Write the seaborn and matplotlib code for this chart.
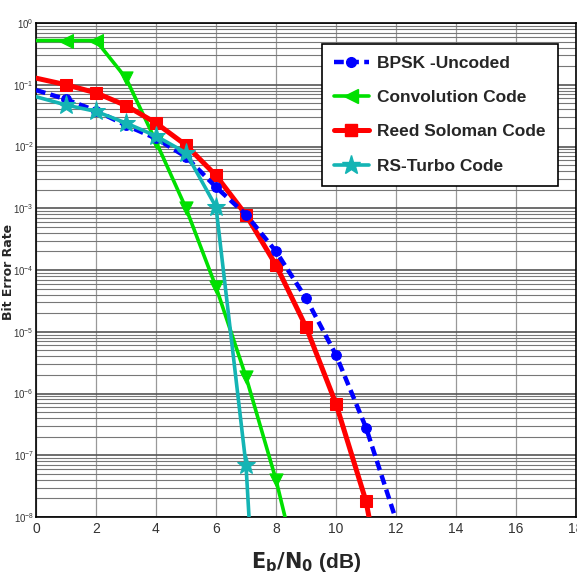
import matplotlib
matplotlib.use("Agg")
import matplotlib.pyplot as plt
import seaborn as sns
import numpy as np
import pandas as pd
from matplotlib.lines import Line2D
from matplotlib import font_manager

# ---- data ----
x_bpsk = [0, 1, 2, 3, 4, 5, 6, 7, 8, 9, 10, 11, 12]
y_bpsk = [0.082, 0.058, 0.038, 0.022, 0.0135, 0.0068, 0.0022, 7.9e-4, 2.0e-4, 3.5e-5, 4.2e-6, 2.8e-7, 9.0e-9]

x_conv = [0, 1, 2, 3, 4, 5, 6, 7, 8, 9]
y_conv = [0.52, 0.52, 0.52, 0.128, 0.012, 1.0e-3, 5.3e-5, 1.86e-6, 4.0e-8, 4.0e-10]

x_rs = [0, 1, 2, 3, 4, 5, 6, 7, 8, 9, 10, 11, 12]
y_rs = [0.128, 0.100, 0.074, 0.046, 0.024, 0.0105, 3.4e-3, 7.8e-4, 1.2e-4, 1.2e-5, 6.8e-7, 1.8e-8, 5.0e-11]

x_turbo = [0, 1, 2, 3, 4, 5, 6, 7, 8]
y_turbo = [0.064, 0.047, 0.037, 0.024, 0.0148, 0.0079, 1.05e-3, 6.9e-8, 3.0e-16]

labels = ["BPSK -Uncoded", "Convolution Code", "Reed Soloman Code", "RS-Turbo Code"]
x_ticks = [0, 2, 4, 6, 8, 10, 12, 14, 16, 18]

sns.set_style("white")
avail = {f.name for f in font_manager.fontManager.ttflist}
narrow = "Liberation Sans Narrow" if "Liberation Sans Narrow" in avail else "Liberation Sans"
plt.rcParams['font.family'] = [narrow, 'DejaVu Sans']

fig = plt.figure(figsize=(5.77, 5.74), dpi=100)
ax = fig.add_axes([36/577, 1-517/574, 540/577, 494/574])
ax.set_yscale('log')

blue = '#0000FF'
green = '#00E000'
red = '#FF0000'
teal = '#14B4B4'

df_b = pd.DataFrame({'x': x_bpsk, 'y': y_bpsk})
df_c = pd.DataFrame({'x': x_conv, 'y': y_conv})
df_r = pd.DataFrame({'x': x_rs, 'y': y_rs})
df_t = pd.DataFrame({'x': x_turbo, 'y': y_turbo})

sns.lineplot(data=df_c, x='x', y='y', ax=ax, color=green, lw=2.6, marker='<',
             markersize=10, markevery=[1, 2], markeredgecolor=green, zorder=3)
sns.scatterplot(data=df_c.iloc[3:9], x='x', y='y', ax=ax, color=green, marker='v',
                s=90, edgecolor=green, zorder=3)
sns.lineplot(data=df_b, x='x', y='y', ax=ax, color=blue, lw=3.2, marker='o',
             markersize=7, markevery=list(range(1, 12)), dashes=(2.2, 1.2),
             markeredgecolor=blue, zorder=4)
sns.lineplot(data=df_r, x='x', y='y', ax=ax, color=red, lw=3.6, marker='s',
             markersize=8, markevery=list(range(1, 12)), markeredgecolor=red, zorder=3)
sns.lineplot(data=df_t, x='x', y='y', ax=ax, color=teal, lw=2.6, marker='*',
             markersize=14, markevery=list(range(1, 8)), markeredgecolor=teal, zorder=5)

ax.set_xlim(0, 18)
ax.set_ylim(1e-8, 1)
ax.set_xticks(x_ticks)
ax.set_xticklabels([str(t) for t in x_ticks])
ax.set_yticks([10.0**k for k in range(-8, 1)])

ax.grid(True, which='major', axis='x', color='#999999', lw=0.9)
ax.grid(True, which='major', axis='y', color='#555555', lw=1.2)
ax.grid(True, which='minor', axis='y', color='#777777', lw=0.8)
ax.set_axisbelow(True)

ax.tick_params(axis='x', which='major', direction='in', labelsize=10, length=5, colors='#333333')
ax.tick_params(axis='y', which='major', direction='in', labelsize=7, length=5, pad=1.5, colors='#333333')
ax.tick_params(axis='y', which='minor', left=False)
for sp in ax.spines.values():
    sp.set_color('black')
    sp.set_linewidth(1.2)

ax.set_xlabel(r"$\mathbf{E_b/N_0}$ (dB)", fontsize=15, fontweight='bold', labelpad=10)
ax.set_ylabel("")
fig.text(8.5/577, 1-272/574, "Bit Error Rate", rotation=90, ha='center', va='center',
         fontsize=9, fontweight='bold', family='DejaVu Sans')

handles = [
    Line2D([], [], color=blue, lw=3.2, dashes=(2.2, 1.2), marker='o', markersize=7),
    Line2D([], [], color=green, lw=2.6, marker='<', markersize=10),
    Line2D([], [], color=red, lw=3.6, marker='s', markersize=8),
    Line2D([], [], color=teal, lw=2.6, marker='*', markersize=14),
]
leg = ax.legend(handles, labels, loc='upper right', bbox_to_anchor=(0.983, 0.976),
                prop={'weight': 'bold', 'size': 12.5},
                frameon=True, fancybox=False, edgecolor='black', framealpha=1,
                handlelength=2.0, handletextpad=0.5, labelspacing=1.1, borderpad=0.7)
leg.get_frame().set_linewidth(1.2)

fig.savefig("out.png", dpi=100)
